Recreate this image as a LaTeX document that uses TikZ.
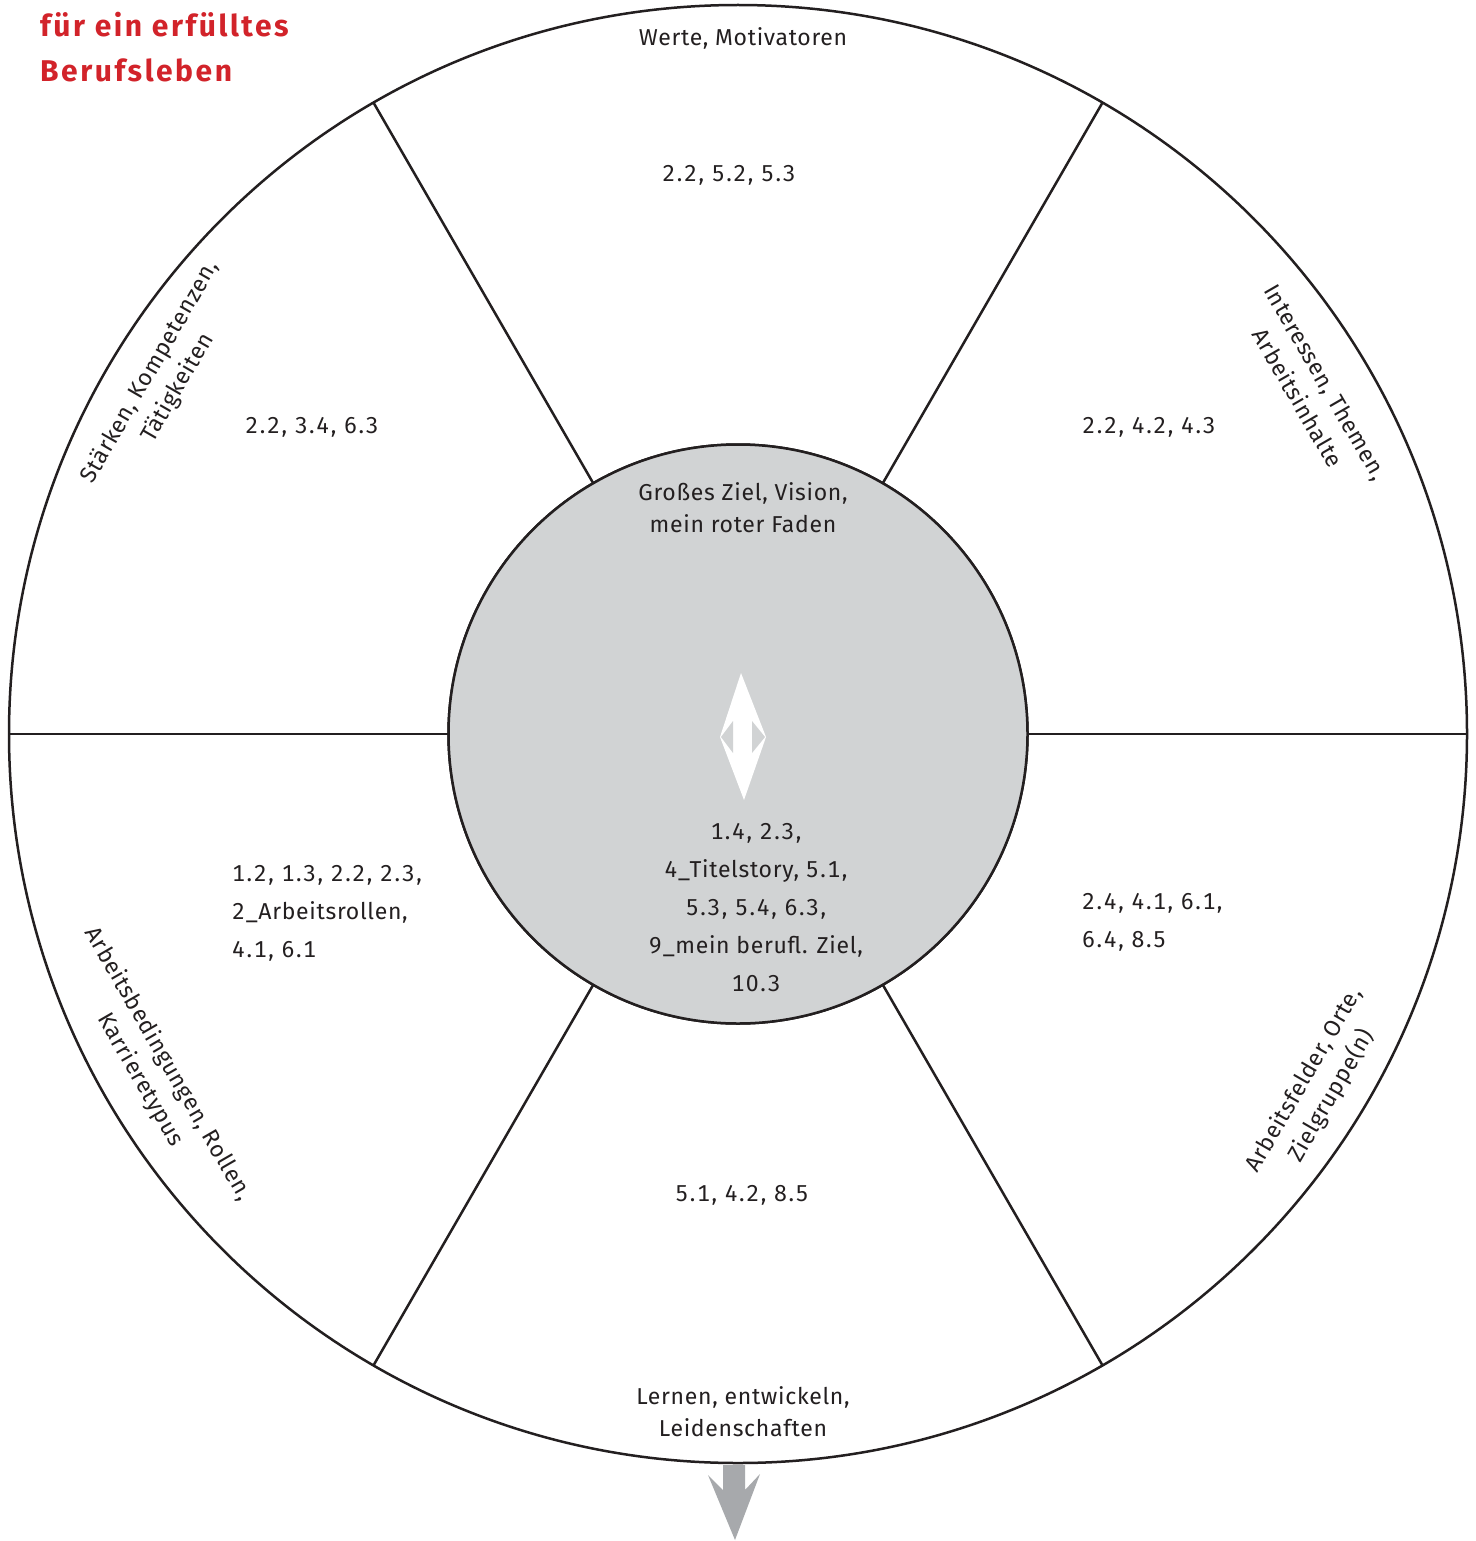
\documentclass[tikz,border=0pt]{standalone}
\usepackage{fontspec}
\setmainfont{Fira Sans}
\newfontfamily\lblfont[LetterSpace=3,Numbers=Monospaced]{Fira Sans}
\newfontfamily\numfont[LetterSpace=7,Numbers=Monospaced]{Fira Sans}
\newfontfamily\titlefont[LetterSpace=8.5]{Fira Sans}
\newcommand{\nm}[1]{{\numfont #1}}
\definecolor{inkc}{HTML}{231F20}
\definecolor{hubgray}{HTML}{D1D3D4}
\definecolor{arrowgray}{HTML}{A7A9AC}
\definecolor{titlered}{HTML}{D2232A}
\begin{document}
\begin{tikzpicture}[x=1pt,y=-1pt,
  ring/.style={circle,draw=inkc,line width=2.5pt,outer sep=0pt,inner sep=0pt},
  spoke/.style={draw=inkc,line width=2.5pt},
  lbl/.style={font=\lblfont\fontsize{23}{32}\selectfont,text=inkc,align=center,inner sep=0pt},
  nums/.style={font=\lblfont\fontsize{23}{38}\selectfont,text=inkc,inner sep=0pt},
  title/.style={font=\titlefont\fontsize{30}{45}\selectfont\bfseries,text=titlered,align=left,inner sep=0pt}]
\useasboundingbox (0,0) rectangle (1475,1541);
\fill[white] (0,0) rectangle (1475,1541);
% outer wheel
\node[ring,fill=white,minimum size=1458pt] (outer) at (738,734) {};
\node[ring,minimum size=579pt] (innerref) at (738,734) {};
\foreach \a in {0,60,120,180,240,300}
  \draw[spoke] (innerref.\a) -- (outer.\a);
\node[ring,fill=hubgray,minimum size=579pt] (hub) at (738,734) {};
% centre double arrow
\fill[white] (741,673) -- (766,737) -- (744,800) -- (720,737) -- cycle;
\fill[hubgray] (733,721) -- (721,737) -- (733,753) -- cycle;
\fill[hubgray] (752,721) -- (765,737) -- (752,753) -- cycle;
% bottom arrow
\fill[arrowgray] (723,1465) -- (745,1465) -- (745,1490) -- (760,1474) -- (735,1540) -- (708,1475) -- (723,1490) -- cycle;
% title
\node[title,anchor=base west] (title1) at (40,37) {für ein erfülltes};
\node[title,anchor=base west] (title2) at (40,82) {Berufsleben};
% sector labels
\node[lbl] (werte) at (743,38) {Werte, Motivatoren};
\node[lbl] (ziel) at (743,508) {Großes Ziel, Vision,\\mein roter Faden};
\node[lbl] (lernen) at (743,1412) {Lernen, entwickeln,\\Leidenschaften};
\node[lbl,rotate=60] (staerken) at (164,380) {Stärken, Kompetenzen,\\Tätigkeiten};
\node[lbl,rotate=-60] (interessen) at (1312,390) {Interessen, Themen,\\Arbeitsinhalte};
\node[lbl,rotate=-60] (bedingungen) at (154,1072) {Arbeitsbedingungen, Rollen,\\Karrieretypus};
\node[lbl,rotate=60] (felder) at (1318,1088) {Arbeitsfelder, Orte,\\Zielgruppe(n)};
% numbers
\node[nums] (n1) at (729,175) {\nm{2.2, 5.2, 5.3}};
\node[nums] (n2) at (312,427) {\nm{2.2, 3.4, 6.3}};
\node[nums] (n3) at (1149,427) {\nm{2.2, 4.2, 4.3}};
\node[nums,align=left,anchor=west] (n4) at (232,913) {\nm{1.2, 1.3, 2.2, 2.3,}\\2\_Arbeitsrollen,\\\nm{4.1, 6.1}};
\node[nums,align=left,anchor=west] (n5) at (1082,922) {\nm{2.4, 4.1, 6.1,}\\\nm{6.4, 8.5}};
\node[nums] (n6) at (742,1195) {\nm{5.1, 4.2, 8.5}};
\node[nums,align=center] (n7) at (756,908) {\nm{1.4, 2.3,}\\4\_Titelstory, \nm{5.1,}\\\nm{5.3, 5.4, 6.3,}\\9\_mein berufl. Ziel,\\\nm{10.3}};
\end{tikzpicture}
\end{document}
